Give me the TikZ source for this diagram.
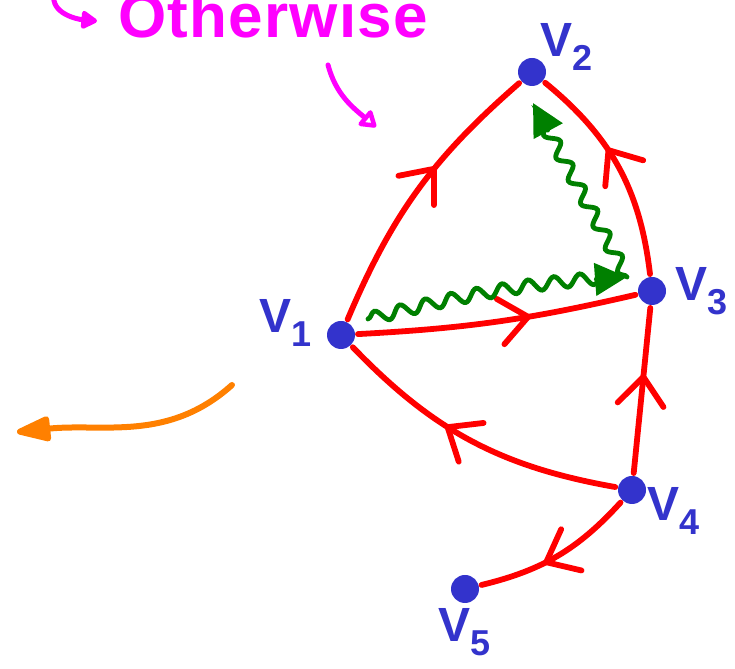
\documentclass[tikz,border=0pt]{standalone}
\usepackage{fontspec}
\setmainfont{Liberation Sans}
\usepackage{xcolor}
\definecolor{cVertex}{HTML}{3333CC}
\definecolor{cEdge}{HTML}{FF0000}
\definecolor{cWave}{HTML}{008000}
\definecolor{cNote}{HTML}{FF00FF}
\definecolor{cBack}{HTML}{FF8000}
\usepackage{tikz}
\usetikzlibrary{positioning,arrows.meta,decorations.pathmorphing,%
  decorations.markings}
\newcommand{\vname}[1]{V\raisebox{-7pt}{\fontsize{18}{18}\selectfont #1}}
\tikzset{
  node-vertex/.style={circle,fill=cVertex,minimum size=14pt,inner sep=0pt,
    outer sep=1.5pt},
  node-label/.style={text=cVertex,inner sep=0pt,
    font=\fontsize{24}{24}\selectfont\bfseries},
  node-note/.style={text=cNote,inner sep=0pt,anchor=base west,
    font=\fontsize{31}{31}\selectfont\bfseries\addfontfeature{LetterSpace=2}},
  % rote Kanten, Pfeil mitten auf der Kante
  arrow-edge/.style={draw=cEdge,line width=2.9pt,line cap=round},
  edge-mark/.style={postaction={decorate},decoration={markings,
    mark=at position #1 with {\arrow{Straight Barb[round,length=14pt,width=23pt]}}}},
  arrow-wave/.style={draw=cWave,line width=2.4pt,line cap=round,decorate,
    decoration={snake,amplitude=3pt,segment length=13pt,post length=6pt},
    -{Triangle[length=16pt,width=16pt]}},
  arrow-note/.style={draw=cNote,line width=2.5pt,line cap=round,
    -{Triangle[open,round,length=9pt,width=11pt]}},
  arrow-back/.style={draw=cBack,line width=3pt,line cap=round,
    -{Triangle[round,length=20pt,width=13pt]}},
}
\begin{document}
\begin{tikzpicture}[x=0.5pt,y=0.5pt]
  \useasboundingbox (0,0) rectangle (735,669);
  % Knoten
  \node[node-vertex] (v1) at (341,334) {};
  \node[node-vertex] (v2) at (532,597) {};
  \node[node-vertex] (v3) at (652,378) {};
  \node[node-vertex] (v4) at (632,179) {};
  \node[node-vertex] (v5) at (465,80) {};
  \node[node-label,left=6pt of v1,yshift=6pt] (v1-name) {\vname{1}};
  \node[node-label,right=-4.5pt of v2,yshift=12.5pt] (v2-name) {\vname{2}};
  \node[node-label,right=3pt of v3] (v3-name) {\vname{3}};
  \node[node-label,below right=-7.5pt and 1.5pt of v4] (v4-name) {\vname{4}};
  \node[node-label,below=1pt of v5] (v5-name) {\vname{5}};
  % Kanten
  \draw[arrow-edge,edge-mark=0.6]  (v1) to[bend left=13] (v2);
  \draw[arrow-edge,edge-mark=0.6]  (v3) to[bend right=22] (v2);
  \draw[arrow-edge,edge-mark=0.62] (v1) to[bend right=5] (v3);
  \draw[arrow-edge,edge-mark=0.6]  (v4) to (v3);
  \draw[arrow-edge,edge-mark=0.6]  (v4) to[bend left=18] (v1);
  \draw[arrow-edge,edge-mark=0.6]  (v4) to[bend left=17] (v5);
  % gruene Wellen
  \coordinate (w1-start) at (368,350);
  \coordinate (w1-end) at (627,392);
  \coordinate (w2-end) at (533,566);
  \draw[arrow-wave] (w1-start) to[bend left=5] (w1-end);
  \draw[arrow-wave] (w1-end) -- (w2-end);
  % Notizen
  \node[node-note] (note) at (118,631) {Otherwise};
  \coordinate (curl-from) at (54,675);
  \coordinate (curl-to) at (97,648);
  \draw[arrow-note,-{Triangle[round,length=9pt,width=10pt]}]
    (curl-from) to[out=-100,in=175] (curl-to);
  \coordinate (note-from) at (328,604);
  \coordinate (note-to) at (376,542);
  \draw[arrow-note] (note-from) to[out=-75,in=140] (note-to);
  \coordinate (back-from) at (232,284);
  \coordinate (back-to) at (17,237);
  \draw[arrow-back] (back-from) to[out=-138,in=6] (back-to);
\end{tikzpicture}
\end{document}
